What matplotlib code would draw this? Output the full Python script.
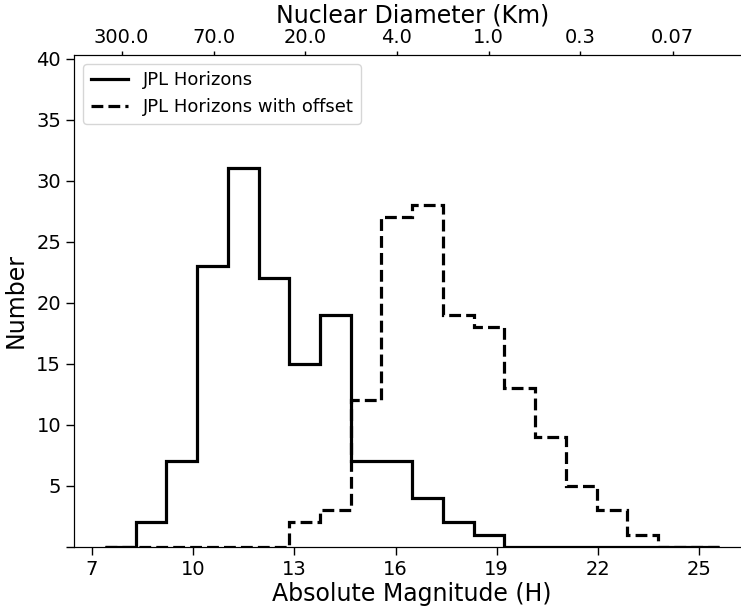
import numpy as np
import matplotlib
matplotlib.use("Agg")
import matplotlib.pyplot as plt
from matplotlib.lines import Line2D

# ---- data ----
bin_edges = np.linspace(7.39, 25.60, 21)
counts_jpl = [0, 2, 7, 23, 31, 22, 15, 19, 7, 7, 4, 2, 1, 0, 0, 0, 0, 0, 0, 0]
counts_offset = [0, 0, 0, 0, 0, 0, 2, 3, 12, 27, 28, 19, 18, 13, 9, 5, 3, 1, 0, 0]
label_jpl = "JPL Horizons"
label_offset = "JPL Horizons with offset"
bottom_ticks = [7, 10, 13, 16, 19, 22, 25]
y_ticks = [0, 5, 10, 15, 20, 25, 30, 35, 40]
top_tick_pos = [7.88, 10.61, 13.31, 16.04, 18.76, 21.48, 24.21]
top_tick_labels = ["300.0", "70.0", "20.0", "4.0", "1.0", "0.3", "0.07"]

plt.rcParams['font.family'] = ['DejaVu Sans']

fig = plt.figure(figsize=(7.41, 6.08), dpi=100)
ax = fig.add_axes([0.1003, 0.1008, 0.912, 0.8087])

ax.hist(bin_edges[:-1], bins=bin_edges, weights=counts_jpl, histtype='step',
        color='black', linewidth=2.3, linestyle='-')
ax.hist(bin_edges[:-1], bins=bin_edges, weights=counts_offset, histtype='step',
        color='black', linewidth=2.3, linestyle='--')

ax.set_xlim(6.48, 26.51)
ax.set_ylim(0, 1.3 * max(counts_jpl))
ax.set_xticks(bottom_ticks)
ax.set_xticklabels([str(t) for t in bottom_ticks])
ax.set_yticks(y_ticks)
ax.set_yticklabels([''] + [str(t) for t in y_ticks[1:]])
ax.tick_params(axis='both', labelsize=14, length=6, width=1)
ax.set_xlabel("Absolute Magnitude (H)", fontsize=17, labelpad=2)
ax.set_ylabel("Number", fontsize=17, labelpad=6)

handles = [Line2D([], [], color='black', lw=2.3, ls='-'),
           Line2D([], [], color='black', lw=2.3, ls='--')]
ax.legend(handles, [label_jpl, label_offset], loc='upper left', fontsize=13,
          handlelength=2.1)

ax2 = ax.twiny()
ax2.set_xlim(ax.get_xlim())
ax2.set_xticks(top_tick_pos)
ax2.set_xticklabels(top_tick_labels)
ax2.tick_params(axis='x', labelsize=14, length=3, width=1, pad=3)
ax2.set_xlabel("Nuclear Diameter (Km)", fontsize=17, labelpad=4)

fig.savefig("out.png", dpi=100)
